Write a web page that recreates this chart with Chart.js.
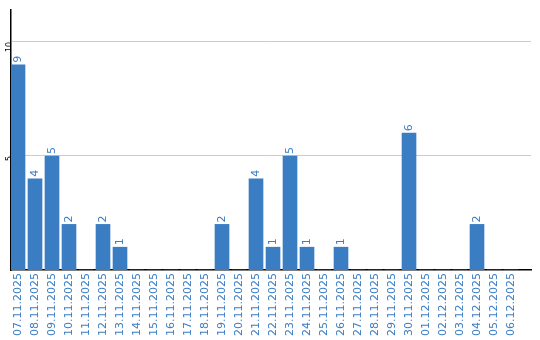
<!DOCTYPE html>
<html>
<head>
<meta charset="utf-8">
<script src="https://cdn.jsdelivr.net/npm/chart.js@4/dist/chart.umd.min.js"></script>
<style>
html,body{margin:0;padding:0;background:#fff;}
#wrap{width:540px;height:340px;position:relative;}
</style>
</head>
<body>
<div id="wrap"><canvas id="c" width="540" height="340"></canvas></div>
<script>
const dates = ["07.11.2025","08.11.2025","09.11.2025","10.11.2025","11.11.2025","12.11.2025","13.11.2025","14.11.2025","15.11.2025","16.11.2025","17.11.2025","18.11.2025","19.11.2025","20.11.2025","21.11.2025","22.11.2025","23.11.2025","24.11.2025","25.11.2025","26.11.2025","27.11.2025","28.11.2025","29.11.2025","30.11.2025","01.12.2025","02.12.2025","03.12.2025","04.12.2025","05.12.2025","06.12.2025"];
const counts = [9,4,5,2,0,2,1,0,0,0,0,0,2,0,4,1,5,1,0,1,0,0,0,6,0,0,0,2,0,0];
const yTicks = [5,10];

const BLUE = '#3b7dc3';

const labelPlugin = {
  id: 'barLabels',
  afterDatasetsDraw(chart) {
    const ctx = chart.ctx;
    const meta = chart.getDatasetMeta(0);
    ctx.save();
    ctx.fillStyle = BLUE;
    ctx.font = '11px "DejaVu Sans"';
    ctx.textAlign = 'left';
    ctx.textBaseline = 'middle';
    meta.data.forEach((bar, i) => {
      const v = counts[i];
      if (!v) return;
      ctx.save();
      ctx.translate(bar.x, bar.y - 2);
      ctx.rotate(-Math.PI / 2);
      ctx.fillText(String(v), 0, 0);
      ctx.restore();
    });
    ctx.restore();
  }
};

new Chart(document.getElementById('c'), {
  type: 'bar',
  data: {
    datasets: [{
      data: counts.map((v, i) => ({x: i, y: v})),
      backgroundColor: BLUE,
      borderWidth: 0,
      barThickness: 14
    }]
  },
  options: {
    responsive: false,
    animation: false,
    layout: {padding: {top: 10, right: 9, left: 0, bottom: 0}},
    plugins: {legend: {display: false}, tooltip: {enabled: false}},
    scales: {
      x: {
        type: 'linear',
        offset: false,
        min: -0.4118,
        max: 30.176,
        grid: {display: false, drawTicks: false},
        border: {display: true, color: '#000', width: 1.5},
        ticks: {
          autoSkip: false,
          minRotation: 90,
          maxRotation: 90,
          padding: 3,
          color: BLUE,
          font: {family: 'DejaVu Sans', size: 11},
          callback: v => dates[v]
        },
        afterBuildTicks: s => { s.ticks = dates.map((d, i) => ({value: i})); },
        afterFit: s => { s.height = 70; }
      },
      y: {
        min: 0,
        max: 11.4,
        grid: {color: '#cccccc', lineWidth: 1, drawTicks: false},
        border: {display: true, color: '#000', width: 1.5},
        ticks: {
          stepSize: 5,
          minRotation: 90,
          maxRotation: 90,
          padding: 1,
          color: '#000',
          font: {family: 'DejaVu Sans', size: 8}
        },
        afterBuildTicks: s => { s.ticks = yTicks.map(v => ({value: v})); },
        afterFit: s => { s.width = 11; }
      }
    }
  },
  plugins: [labelPlugin]
});
</script>
</body>
</html>
